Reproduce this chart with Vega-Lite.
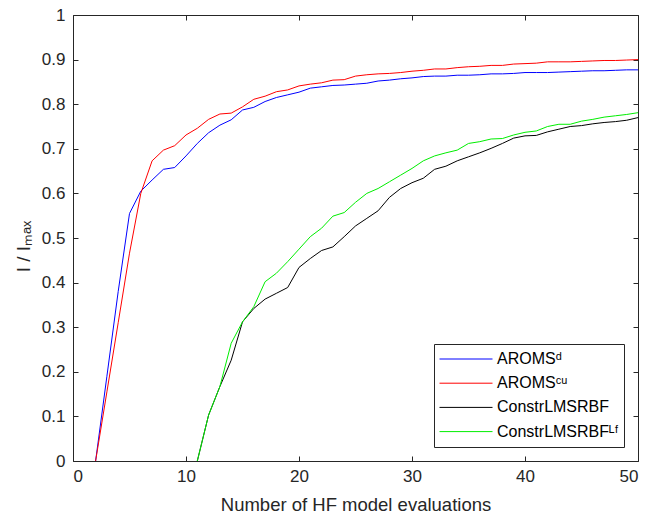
{
  "$schema": "https://vega.github.io/schema/vega-lite/v6.json",
  "width": 565,
  "height": 446,
  "autosize": {"type": "none"},
  "padding": {"left": 73, "top": 15, "right": 10, "bottom": 54},
  "background": "white",
  "config": {
    "view": {"stroke": "#262626", "strokeWidth": 1},
    "font": "Liberation Sans",
    "axis": {"grid": false, "domain": false, "tickColor": "#262626", "labelColor": "#262626", "titleColor": "#262626", "labelFont": "Liberation Sans", "titleFont": "Liberation Sans", "labelFontSize": 17, "titleFontSize": 18.5, "titleFontWeight": "normal", "tickSize": -5}
  },
  "datasets": {
    "d": [
      {"method": "AROMSᵈ", "x": 2, "y": 0}, {"method": "AROMSᵈ", "x": 3, "y": 0.19}, {"method": "AROMSᵈ", "x": 4, "y": 0.38}, {"method": "AROMSᵈ", "x": 5, "y": 0.555}, {"method": "AROMSᵈ", "x": 6, "y": 0.605}, {"method": "AROMSᵈ", "x": 7, "y": 0.63}, {"method": "AROMSᵈ", "x": 8, "y": 0.654}, {"method": "AROMSᵈ", "x": 9, "y": 0.658}, {"method": "AROMSᵈ", "x": 10, "y": 0.684}, {"method": "AROMSᵈ", "x": 11, "y": 0.712}, {"method": "AROMSᵈ", "x": 12, "y": 0.736}, {"method": "AROMSᵈ", "x": 13, "y": 0.753}, {"method": "AROMSᵈ", "x": 14, "y": 0.765}, {"method": "AROMSᵈ", "x": 15, "y": 0.787}, {"method": "AROMSᵈ", "x": 16, "y": 0.793}, {"method": "AROMSᵈ", "x": 17, "y": 0.806}, {"method": "AROMSᵈ", "x": 18, "y": 0.815}, {"method": "AROMSᵈ", "x": 19, "y": 0.821}, {"method": "AROMSᵈ", "x": 20, "y": 0.827}, {"method": "AROMSᵈ", "x": 21, "y": 0.836}, {"method": "AROMSᵈ", "x": 22, "y": 0.839}, {"method": "AROMSᵈ", "x": 23, "y": 0.842}, {"method": "AROMSᵈ", "x": 24, "y": 0.843}, {"method": "AROMSᵈ", "x": 25, "y": 0.845}, {"method": "AROMSᵈ", "x": 26, "y": 0.847}, {"method": "AROMSᵈ", "x": 27, "y": 0.852}, {"method": "AROMSᵈ", "x": 28, "y": 0.854}, {"method": "AROMSᵈ", "x": 29, "y": 0.857}, {"method": "AROMSᵈ", "x": 30, "y": 0.859}, {"method": "AROMSᵈ", "x": 31, "y": 0.862}, {"method": "AROMSᵈ", "x": 32, "y": 0.863}, {"method": "AROMSᵈ", "x": 33, "y": 0.863}, {"method": "AROMSᵈ", "x": 34, "y": 0.865}, {"method": "AROMSᵈ", "x": 35, "y": 0.865}, {"method": "AROMSᵈ", "x": 36, "y": 0.866}, {"method": "AROMSᵈ", "x": 37, "y": 0.868}, {"method": "AROMSᵈ", "x": 38, "y": 0.868}, {"method": "AROMSᵈ", "x": 39, "y": 0.869}, {"method": "AROMSᵈ", "x": 40, "y": 0.871}, {"method": "AROMSᵈ", "x": 41, "y": 0.871}, {"method": "AROMSᵈ", "x": 42, "y": 0.871}, {"method": "AROMSᵈ", "x": 43, "y": 0.872}, {"method": "AROMSᵈ", "x": 44, "y": 0.873}, {"method": "AROMSᵈ", "x": 45, "y": 0.874}, {"method": "AROMSᵈ", "x": 46, "y": 0.875}, {"method": "AROMSᵈ", "x": 47, "y": 0.875}, {"method": "AROMSᵈ", "x": 48, "y": 0.876}, {"method": "AROMSᵈ", "x": 49, "y": 0.877}, {"method": "AROMSᵈ", "x": 50, "y": 0.877},
      {"method": "AROMSᶜᵘ", "x": 2, "y": 0}, {"method": "AROMSᶜᵘ", "x": 3, "y": 0.155}, {"method": "AROMSᶜᵘ", "x": 4, "y": 0.31}, {"method": "AROMSᶜᵘ", "x": 5, "y": 0.466}, {"method": "AROMSᶜᵘ", "x": 6, "y": 0.6}, {"method": "AROMSᶜᵘ", "x": 7, "y": 0.673}, {"method": "AROMSᶜᵘ", "x": 8, "y": 0.697}, {"method": "AROMSᶜᵘ", "x": 9, "y": 0.707}, {"method": "AROMSᶜᵘ", "x": 10, "y": 0.731}, {"method": "AROMSᶜᵘ", "x": 11, "y": 0.746}, {"method": "AROMSᶜᵘ", "x": 12, "y": 0.766}, {"method": "AROMSᶜᵘ", "x": 13, "y": 0.778}, {"method": "AROMSᶜᵘ", "x": 14, "y": 0.78}, {"method": "AROMSᶜᵘ", "x": 15, "y": 0.794}, {"method": "AROMSᶜᵘ", "x": 16, "y": 0.811}, {"method": "AROMSᶜᵘ", "x": 17, "y": 0.818}, {"method": "AROMSᶜᵘ", "x": 18, "y": 0.828}, {"method": "AROMSᶜᵘ", "x": 19, "y": 0.832}, {"method": "AROMSᶜᵘ", "x": 20, "y": 0.841}, {"method": "AROMSᶜᵘ", "x": 21, "y": 0.845}, {"method": "AROMSᶜᵘ", "x": 22, "y": 0.848}, {"method": "AROMSᶜᵘ", "x": 23, "y": 0.854}, {"method": "AROMSᶜᵘ", "x": 24, "y": 0.855}, {"method": "AROMSᶜᵘ", "x": 25, "y": 0.863}, {"method": "AROMSᶜᵘ", "x": 26, "y": 0.866}, {"method": "AROMSᶜᵘ", "x": 27, "y": 0.868}, {"method": "AROMSᶜᵘ", "x": 28, "y": 0.869}, {"method": "AROMSᶜᵘ", "x": 29, "y": 0.871}, {"method": "AROMSᶜᵘ", "x": 30, "y": 0.874}, {"method": "AROMSᶜᵘ", "x": 31, "y": 0.876}, {"method": "AROMSᶜᵘ", "x": 32, "y": 0.879}, {"method": "AROMSᶜᵘ", "x": 33, "y": 0.879}, {"method": "AROMSᶜᵘ", "x": 34, "y": 0.882}, {"method": "AROMSᶜᵘ", "x": 35, "y": 0.884}, {"method": "AROMSᶜᵘ", "x": 36, "y": 0.885}, {"method": "AROMSᶜᵘ", "x": 37, "y": 0.887}, {"method": "AROMSᶜᵘ", "x": 38, "y": 0.887}, {"method": "AROMSᶜᵘ", "x": 39, "y": 0.89}, {"method": "AROMSᶜᵘ", "x": 40, "y": 0.891}, {"method": "AROMSᶜᵘ", "x": 41, "y": 0.892}, {"method": "AROMSᶜᵘ", "x": 42, "y": 0.895}, {"method": "AROMSᶜᵘ", "x": 43, "y": 0.895}, {"method": "AROMSᶜᵘ", "x": 44, "y": 0.895}, {"method": "AROMSᶜᵘ", "x": 45, "y": 0.896}, {"method": "AROMSᶜᵘ", "x": 46, "y": 0.897}, {"method": "AROMSᶜᵘ", "x": 47, "y": 0.898}, {"method": "AROMSᶜᵘ", "x": 48, "y": 0.898}, {"method": "AROMSᶜᵘ", "x": 49, "y": 0.899}, {"method": "AROMSᶜᵘ", "x": 50, "y": 0.9},
      {"method": "ConstrLMSRBF", "x": 11, "y": 0}, {"method": "ConstrLMSRBF", "x": 12, "y": 0.103}, {"method": "ConstrLMSRBF", "x": 13, "y": 0.167}, {"method": "ConstrLMSRBF", "x": 14, "y": 0.226}, {"method": "ConstrLMSRBF", "x": 15, "y": 0.312}, {"method": "ConstrLMSRBF", "x": 16, "y": 0.342}, {"method": "ConstrLMSRBF", "x": 17, "y": 0.363}, {"method": "ConstrLMSRBF", "x": 18, "y": 0.376}, {"method": "ConstrLMSRBF", "x": 19, "y": 0.389}, {"method": "ConstrLMSRBF", "x": 20, "y": 0.434}, {"method": "ConstrLMSRBF", "x": 21, "y": 0.454}, {"method": "ConstrLMSRBF", "x": 22, "y": 0.472}, {"method": "ConstrLMSRBF", "x": 23, "y": 0.48}, {"method": "ConstrLMSRBF", "x": 24, "y": 0.503}, {"method": "ConstrLMSRBF", "x": 25, "y": 0.527}, {"method": "ConstrLMSRBF", "x": 26, "y": 0.544}, {"method": "ConstrLMSRBF", "x": 27, "y": 0.561}, {"method": "ConstrLMSRBF", "x": 28, "y": 0.591}, {"method": "ConstrLMSRBF", "x": 29, "y": 0.611}, {"method": "ConstrLMSRBF", "x": 30, "y": 0.624}, {"method": "ConstrLMSRBF", "x": 31, "y": 0.634}, {"method": "ConstrLMSRBF", "x": 32, "y": 0.654}, {"method": "ConstrLMSRBF", "x": 33, "y": 0.661}, {"method": "ConstrLMSRBF", "x": 34, "y": 0.673}, {"method": "ConstrLMSRBF", "x": 35, "y": 0.682}, {"method": "ConstrLMSRBF", "x": 36, "y": 0.691}, {"method": "ConstrLMSRBF", "x": 37, "y": 0.701}, {"method": "ConstrLMSRBF", "x": 38, "y": 0.712}, {"method": "ConstrLMSRBF", "x": 39, "y": 0.724}, {"method": "ConstrLMSRBF", "x": 40, "y": 0.729}, {"method": "ConstrLMSRBF", "x": 41, "y": 0.73}, {"method": "ConstrLMSRBF", "x": 42, "y": 0.738}, {"method": "ConstrLMSRBF", "x": 43, "y": 0.744}, {"method": "ConstrLMSRBF", "x": 44, "y": 0.75}, {"method": "ConstrLMSRBF", "x": 45, "y": 0.752}, {"method": "ConstrLMSRBF", "x": 46, "y": 0.756}, {"method": "ConstrLMSRBF", "x": 47, "y": 0.759}, {"method": "ConstrLMSRBF", "x": 48, "y": 0.761}, {"method": "ConstrLMSRBF", "x": 49, "y": 0.764}, {"method": "ConstrLMSRBF", "x": 50, "y": 0.77},
      {"method": "ConstrLMSRBFᴸᶠ", "x": 11, "y": 0}, {"method": "ConstrLMSRBFᴸᶠ", "x": 12, "y": 0.103}, {"method": "ConstrLMSRBFᴸᶠ", "x": 13, "y": 0.167}, {"method": "ConstrLMSRBFᴸᶠ", "x": 14, "y": 0.264}, {"method": "ConstrLMSRBFᴸᶠ", "x": 15, "y": 0.312}, {"method": "ConstrLMSRBFᴸᶠ", "x": 16, "y": 0.346}, {"method": "ConstrLMSRBFᴸᶠ", "x": 17, "y": 0.402}, {"method": "ConstrLMSRBFᴸᶠ", "x": 18, "y": 0.421}, {"method": "ConstrLMSRBFᴸᶠ", "x": 19, "y": 0.447}, {"method": "ConstrLMSRBFᴸᶠ", "x": 20, "y": 0.475}, {"method": "ConstrLMSRBFᴸᶠ", "x": 21, "y": 0.503}, {"method": "ConstrLMSRBFᴸᶠ", "x": 22, "y": 0.522}, {"method": "ConstrLMSRBFᴸᶠ", "x": 23, "y": 0.549}, {"method": "ConstrLMSRBFᴸᶠ", "x": 24, "y": 0.557}, {"method": "ConstrLMSRBFᴸᶠ", "x": 25, "y": 0.58}, {"method": "ConstrLMSRBFᴸᶠ", "x": 26, "y": 0.6}, {"method": "ConstrLMSRBFᴸᶠ", "x": 27, "y": 0.611}, {"method": "ConstrLMSRBFᴸᶠ", "x": 28, "y": 0.626}, {"method": "ConstrLMSRBFᴸᶠ", "x": 29, "y": 0.641}, {"method": "ConstrLMSRBFᴸᶠ", "x": 30, "y": 0.656}, {"method": "ConstrLMSRBFᴸᶠ", "x": 31, "y": 0.673}, {"method": "ConstrLMSRBFᴸᶠ", "x": 32, "y": 0.684}, {"method": "ConstrLMSRBFᴸᶠ", "x": 33, "y": 0.691}, {"method": "ConstrLMSRBFᴸᶠ", "x": 34, "y": 0.697}, {"method": "ConstrLMSRBFᴸᶠ", "x": 35, "y": 0.712}, {"method": "ConstrLMSRBFᴸᶠ", "x": 36, "y": 0.716}, {"method": "ConstrLMSRBFᴸᶠ", "x": 37, "y": 0.722}, {"method": "ConstrLMSRBFᴸᶠ", "x": 38, "y": 0.723}, {"method": "ConstrLMSRBFᴸᶠ", "x": 39, "y": 0.731}, {"method": "ConstrLMSRBFᴸᶠ", "x": 40, "y": 0.737}, {"method": "ConstrLMSRBFᴸᶠ", "x": 41, "y": 0.74}, {"method": "ConstrLMSRBFᴸᶠ", "x": 42, "y": 0.75}, {"method": "ConstrLMSRBFᴸᶠ", "x": 43, "y": 0.755}, {"method": "ConstrLMSRBFᴸᶠ", "x": 44, "y": 0.755}, {"method": "ConstrLMSRBFᴸᶠ", "x": 45, "y": 0.762}, {"method": "ConstrLMSRBFᴸᶠ", "x": 46, "y": 0.766}, {"method": "ConstrLMSRBFᴸᶠ", "x": 47, "y": 0.771}, {"method": "ConstrLMSRBFᴸᶠ", "x": 48, "y": 0.774}, {"method": "ConstrLMSRBFᴸᶠ", "x": 49, "y": 0.777}, {"method": "ConstrLMSRBFᴸᶠ", "x": 50, "y": 0.781}
    ]
  },
  "data": {"name": "d"},
  "layer": [
    {
      "mark": {"type": "line", "strokeWidth": 1},
      "encoding": {
        "x": {"field": "x", "type": "quantitative", "scale": {"domain": [0, 50], "nice": false, "zero": false},
              "axis": {"orient": "bottom", "values": [0, 10, 20, 30, 40, 50], "title": "Number of HF model evaluations", "labelPadding": 12, "titlePadding": 11}},
        "y": {"field": "y", "type": "quantitative", "scale": {"domain": [0, 1], "nice": false},
              "axis": {"orient": "left", "values": [0, 0.1, 0.2, 0.3, 0.4, 0.5, 0.6, 0.7, 0.8, 0.9, 1], "labelExpr": "datum.value + ''", "title": "I / Iₘₐₓ", "titleFontSize": 19, "labelPadding": 13, "titlePadding": 8, "titleY": 231}},
        "color": {"field": "method", "type": "nominal",
                  "scale": {"domain": ["AROMSᵈ", "AROMSᶜᵘ", "ConstrLMSRBF", "ConstrLMSRBFᴸᶠ"], "range": ["#0000ff", "#ff0000", "#000000", "#00ee00"]},
                  "legend": {"title": null, "orient": "bottom-right", "offset": 14, "strokeColor": "#262626", "fillColor": "white", "padding": 5, "symbolType": "stroke", "symbolSize": 2809, "symbolStrokeWidth": 1, "clipHeight": 20, "labelFontSize": 16, "labelColor": "#000000", "labelFont": "Liberation Sans", "rowPadding": 4.2, "labelOffset": 4}}
      }
    },
    {
      "mark": {"type": "line", "strokeOpacity": 0},
      "encoding": {
        "x": {"field": "x", "type": "quantitative", "axis": {"orient": "top", "values": [0, 10, 20, 30, 40, 50], "labels": false, "title": null}},
        "y": {"field": "y", "type": "quantitative", "axis": {"orient": "right", "values": [0, 0.1, 0.2, 0.3, 0.4, 0.5, 0.6, 0.7, 0.8, 0.9, 1], "labels": false, "title": null}},
        "detail": {"field": "method"}
      }
    }
  ],
  "resolve": {"axis": {"x": "independent", "y": "independent"}}
}
